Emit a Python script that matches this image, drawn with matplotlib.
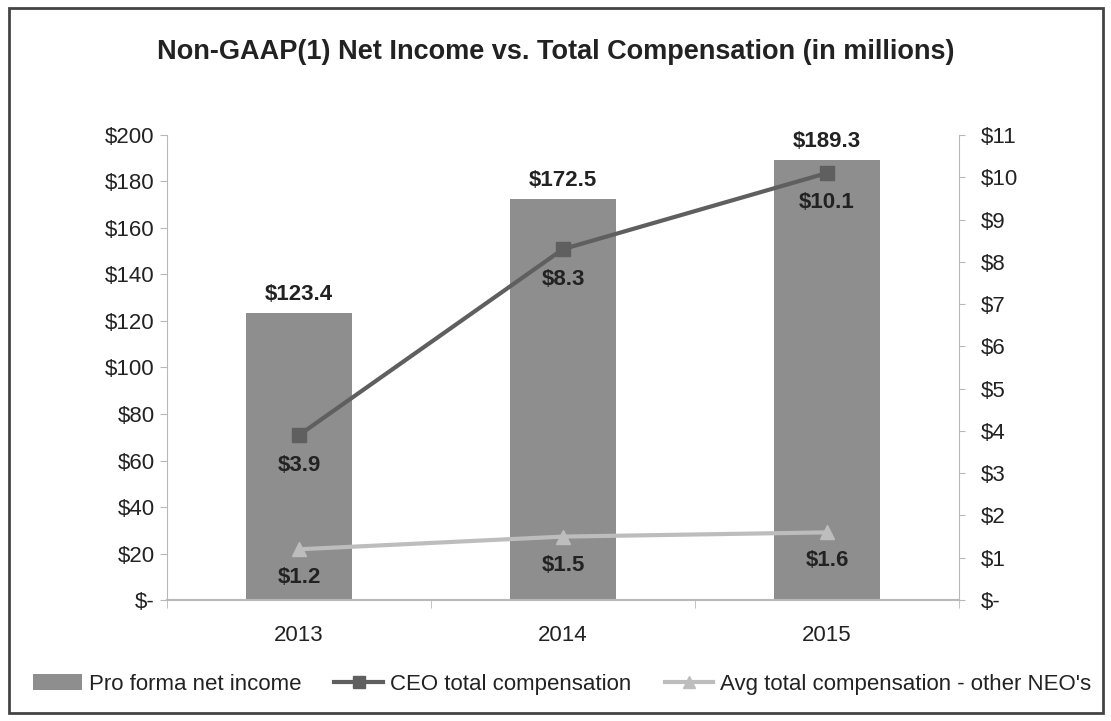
import matplotlib
matplotlib.use('Agg')
import matplotlib.pyplot as plt
from matplotlib.patches import Rectangle
import numpy as np

plt.rcParams['font.family'] = ['Liberation Sans', 'DejaVu Sans']

years = ['2013', '2014', '2015']
net_income = [123.4, 172.5, 189.3]
ceo_comp = [3.9, 8.3, 10.1]
neo_comp = [1.2, 1.5, 1.6]

left_ticks = list(range(0, 201, 20))
left_labels = ['$-'] + ['$' + str(v) for v in left_ticks[1:]]
right_ticks = list(range(0, 12))
right_labels = ['$-'] + ['$' + str(v) for v in right_ticks[1:]]

bar_col = '#8e8e8e'
ceo_col = '#5f5f5f'
neo_col = '#bdbdbd'
axis_col = '#b8b8b8'
text_col = '#222222'

fig = plt.figure(figsize=(11.11, 7.21), dpi=100)
ax = fig.add_axes([0.1503, 0.1678, 0.7129, 0.645])
ax2 = ax.twinx()

x = np.arange(len(years))
bars = ax.bar(x, net_income, width=0.40, color=bar_col, label='Pro forma net income', zorder=1)
ax.set_xlim(-0.5, 2.5)
ax.set_ylim(0, 200)
ax.set_yticks(left_ticks)
ax.set_yticklabels(left_labels)
ax.set_xticks(x)
ax.set_xticklabels(years)
ax.set_xticks([-0.5, 0.5, 1.5, 2.5], minor=True)
ax.tick_params(axis='x', which='major', length=0, pad=18, labelsize=16, colors=text_col)
ax.tick_params(axis='x', which='minor', length=6, color=axis_col)
ax.tick_params(axis='y', length=5, color=axis_col, labelsize=16, labelcolor=text_col, pad=4)

# bar value labels
for b, v in zip(bars, net_income):
    ax.annotate('$%.1f' % v, (b.get_x() + b.get_width() / 2, v), xytext=(0, 6),
                textcoords='offset points', ha='center', va='bottom',
                fontsize=16, fontweight='bold', color=text_col)

ax2.set_ylim(0, 11)
ax2.set_yticks(right_ticks)
ax2.set_yticklabels(right_labels)
ax2.tick_params(axis='y', length=4, color=axis_col, labelsize=16, labelcolor=text_col, pad=12)

l1, = ax2.plot(x, ceo_comp, color=ceo_col, lw=3, marker='s', markersize=10,
               label='CEO total compensation', zorder=3)
l2, = ax2.plot(x, neo_comp, color=neo_col, lw=3, marker='^', markersize=10,
               label="Avg total compensation - other NEO's", zorder=3)

for xi, v in zip(x, ceo_comp):
    ax2.annotate('$%.1f' % v, (xi, v), xytext=(0, -14), textcoords='offset points',
                 ha='center', va='top', fontsize=16, fontweight='bold', color=text_col)
for xi, v in zip(x, neo_comp):
    ax2.annotate('$%.1f' % v, (xi, v), xytext=(0, -13), textcoords='offset points',
                 ha='center', va='top', fontsize=16, fontweight='bold', color=text_col)

for a in (ax, ax2):
    for s in a.spines.values():
        s.set_visible(False)
ax.spines['left'].set_visible(True)
ax.spines['left'].set_color(axis_col)
ax.spines['bottom'].set_visible(True)
ax.spines['bottom'].set_color(axis_col)
ax.spines['bottom'].set_linewidth(1.5)
ax2.spines['right'].set_visible(True)
ax2.spines['right'].set_color(axis_col)

fig.text(0.5, 0.928, 'Non-GAAP(1) Net Income vs. Total Compensation (in millions)',
         ha='center', va='center', fontsize=19.5, fontweight='bold', color=text_col)

fig.legend([bars, l1, l2], [bars.get_label(), l1.get_label(), l2.get_label()],
           loc='center', bbox_to_anchor=(0.506, 0.051), ncol=3, frameon=False,
           fontsize=16, handlelength=2.2, columnspacing=1.5, handletextpad=0.3,
           markerscale=0.8, labelcolor=text_col)

# outer frame
fig.patches.append(Rectangle((0.008, 0.011), 0.985, 0.978, transform=fig.transFigure,
                             fill=False, edgecolor='#444444', lw=2))

fig.savefig('out.png', dpi=100)
